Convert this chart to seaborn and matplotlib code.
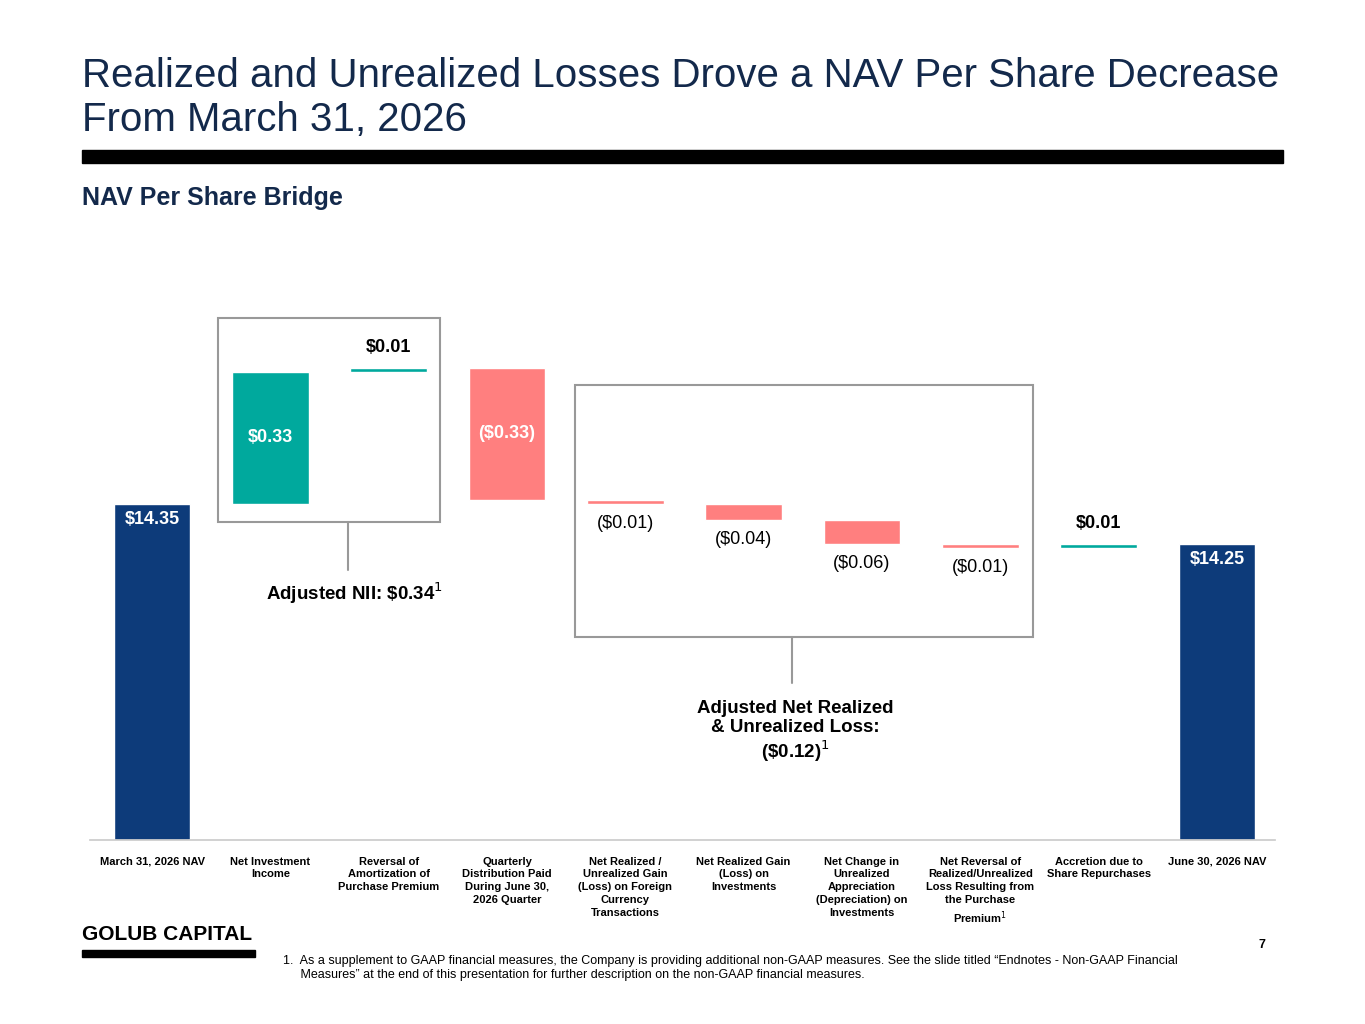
import matplotlib
matplotlib.use("Agg")
import matplotlib.pyplot as plt
import seaborn as sns
import pandas as pd
import numpy as np
from matplotlib.patches import Rectangle
from matplotlib.lines import Line2D

# ===============================
# Data
# ===============================
categories = ["March 31, 2026 NAV", "Net Investment\nIncome", "Reversal of\nAmortization of\nPurchase Premium",
              "Quarterly\nDistribution Paid\nDuring June 30,\n2026 Quarter",
              "Net Realized /\nUnrealized Gain\n(Loss) on Foreign\nCurrency\nTransactions",
              "Net Realized Gain\n(Loss) on\nInvestments", "Net Change in\nUnrealized\nAppreciation\n(Depreciation) on\nInvestments",
              "Net Reversal of\nRealized/Unrealized\nLoss Resulting from\nthe Purchase\nPremium$^1$",
              "Accretion due to\nShare Repurchases", "June 30, 2026 NAV"]
deltas = [14.35, 0.33, 0.01, -0.33, -0.01, -0.04, -0.06, -0.01, 0.01, 14.25]
labels = [r"\$14.35", r"\$0.33", r"\$0.01", r"(\$0.33)", r"(\$0.01)", r"(\$0.04)", r"(\$0.06)", r"(\$0.01)", r"\$0.01", r"\$14.25"]
kinds = ["total", "up", "up", "down", "down", "down", "down", "down", "up", "total"]

NAVY, TEAL, PINK = "#0d3b7a", "#00a99d", "#ff7f7f"
TITLE = "#13294b"
colors = {"total": NAVY, "up": TEAL, "down": PINK}
y0 = 13.51

# running bottoms
bottoms, heights = [], []
run = 0.0
for d, k in zip(deltas, kinds):
    if k == "total":
        bottoms.append(y0); heights.append(d - y0); run = d
    elif d >= 0:
        bottoms.append(run); heights.append(d); run += d
    else:
        run += d; bottoms.append(run); heights.append(-d)

df = pd.DataFrame({"cat": range(len(categories)), "h": heights})

sns.set_theme(style="white")
plt.rcParams['font.family'] = ['Liberation Sans', 'DejaVu Sans']
plt.rcParams['text.color'] = 'black'
fig = plt.figure(figsize=(13.65, 10.24), dpi=100)
W, H = 1365, 1024
fx = lambda x: x / W
fy = lambda y: 1 - y / H

ax = fig.add_axes([fx(90), fy(840), fx(1275) - fx(90), fy(280) - fy(840)])
sns.barplot(data=df, x="cat", y="h", ax=ax, width=0.65,
            palette=[colors[k] for k in kinds], hue="cat", legend=False, saturation=1)
for p, b in zip(ax.patches, bottoms):
    p.set_y(b)
ax.set_ylim(y0, y0 + 1.4)
ax.set_xlim(-0.524, 9.49)
ax.set_yticks([])
ax.set_xticks(range(len(categories)))
ax.set_xticklabels(categories, fontsize=8, fontweight="bold", va="top", linespacing=1.35, color="black")
ax.tick_params(axis="x", length=0, pad=12)
ax.set_xlabel(""); ax.set_ylabel("")
for s in ["top", "right", "left"]:
    ax.spines[s].set_visible(False)
ax.spines["bottom"].set_color("#cccccc")

# value labels
for i, (lab, k, b, h) in enumerate(zip(labels, kinds, bottoms, heights)):
    if k == "total":
        ax.text(i, b + h - 0.04, lab, ha="center", va="center", color="white", fontsize=13, fontweight="bold")
    elif i in (1, 3):
        ax.text(i, b + h / 2, lab, ha="center", va="center", color="white", fontsize=13, fontweight="bold")
    elif k == "up":
        ax.text(i, b + h + 0.05, lab, ha="center", va="center", color="black", fontsize=13, fontweight="bold")
    else:
        ax.text(i, b - 0.05, lab, ha="center", va="center", color="black", fontsize=13)

# annotation boxes
fig.add_artist(Rectangle((fx(218), fy(522)), fx(440) - fx(218), fy(318) - fy(522), fill=False, ec="#999999", lw=1.5))
fig.add_artist(Line2D([fx(348)] * 2, [fy(522), fy(570)], color="#999999", lw=1.5))
fig.text(fx(355), fy(593), r"Adjusted NII: \$0.34$^1$", ha="center", va="center", fontsize=13.5, fontweight="bold")
fig.add_artist(Rectangle((fx(575), fy(637)), fx(1033) - fx(575), fy(385) - fy(637), fill=False, ec="#999999", lw=1.5))
fig.add_artist(Line2D([fx(792)] * 2, [fy(637), fy(683)], color="#999999", lw=1.5))
fig.text(fx(795), fy(732), "Adjusted Net Realized\n& Unrealized Loss:\n" + r"(\$0.12)$^1$", ha="center", va="center",
         fontsize=13.5, fontweight="bold", linespacing=1.15)

# header
fig.text(fx(82), fy(98), "Realized and Unrealized Losses Drove a NAV Per Share Decrease\nFrom March 31, 2026",
         ha="left", va="center", fontsize=29, color=TITLE, linespacing=1.2)
fig.add_artist(Rectangle((fx(82), fy(163)), fx(1283) - fx(82), fy(150) - fy(163), color="black"))
fig.text(fx(82), fy(198), "NAV Per Share Bridge", ha="left", va="center", fontsize=18, fontweight="bold", color=TITLE)

# footer
fig.text(fx(82), fy(935), "GOLUB CAPITAL", ha="left", va="center", fontsize=15, fontweight="bold")
fig.add_artist(Rectangle((fx(82), fy(957)), fx(255) - fx(82), fy(950) - fy(957), color="black"))
fig.text(fx(1262), fy(945), "7", ha="center", va="center", fontsize=9, fontweight="bold")
fig.text(fx(283), fy(968), "1.  As a supplement to GAAP financial measures, the Company is providing additional non-GAAP measures. See the slide titled \u201cEndnotes - Non-GAAP Financial\n     Measures\u201d at the end of this presentation for further description on the non-GAAP financial measures.",
         ha="left", va="center", fontsize=9, linespacing=1.2)

fig.savefig("out.png", dpi=100)
